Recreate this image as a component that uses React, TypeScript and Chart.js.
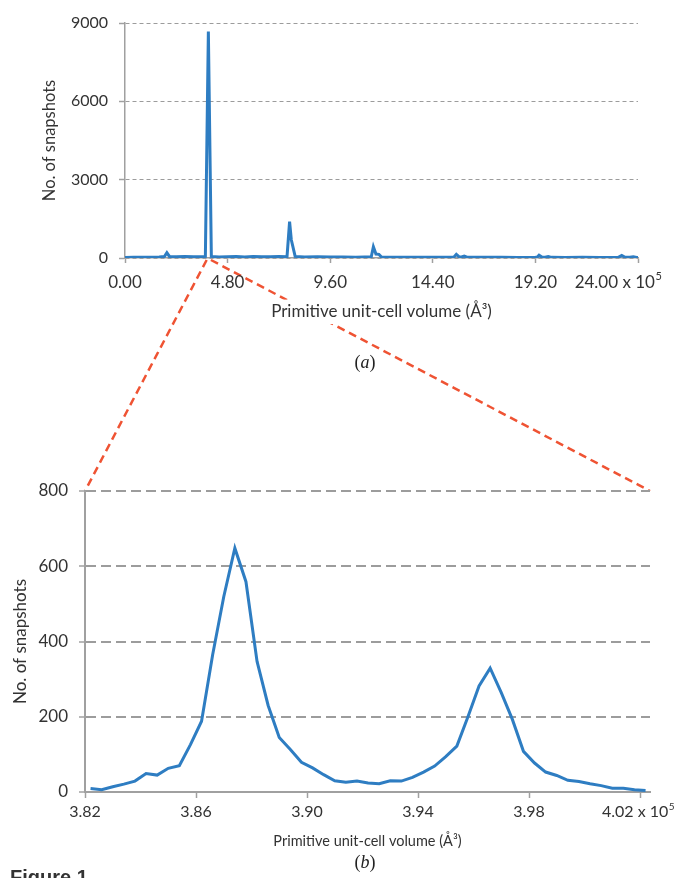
import React, { useEffect, useRef } from 'react';
import { Chart, registerables } from 'chart.js';

Chart.register(...registerables);

// ---------- data (a): full range, volume in units of 10^5 Å^3 ----------
const TOP_VOLUME = [
  0.0, 0.4, 0.8, 1.2, 1.6, 1.85, 1.96, 2.08, 2.4, 2.8, 3.2, 3.6, 3.76, 3.9, 4.04,
  4.4, 4.8, 5.2, 5.6, 6.0, 6.4, 6.8, 7.2, 7.58, 7.7, 7.78, 7.96, 8.4, 9.0, 9.6,
  10.2, 10.8, 11.2, 11.52, 11.62, 11.74, 11.88, 12.0, 12.6, 13.2, 13.8, 14.4, 15.0,
  15.38, 15.5, 15.62, 15.74, 15.87, 16.0, 16.8, 17.6, 18.4, 19.2, 19.28, 19.37, 19.5,
  19.66, 19.8, 19.95, 20.6, 21.4, 22.2, 23.08, 23.24, 23.4, 23.62, 23.78, 23.94, 24.0,
];
const TOP_SNAPSHOTS = [
  20, 25, 30, 28, 35, 60, 200, 60, 45, 55, 50, 45, 60, 8670, 60,
  40, 45, 55, 40, 60, 50, 45, 55, 50, 1390, 700, 60, 40, 45, 35,
  40, 30, 35, 40, 430, 150, 140, 40, 30, 25, 30, 25, 30,
  30, 140, 50, 40, 70, 30, 25, 25, 20, 25, 30, 110, 35,
  30, 60, 25, 20, 25, 20, 25, 100, 30, 25, 50, 20, 15,
];
const TOP_X_TICKS = [0, 4.8, 9.6, 14.4, 19.2, 24];

// ---------- data (b): zoom 3.82 – 4.02 x 10^5 Å^3 ----------
const ZOOM_VOLUME = [
  3.822, 3.826, 3.83, 3.834, 3.838, 3.842, 3.846, 3.85, 3.854, 3.858,
  3.862, 3.866, 3.87, 3.874, 3.878, 3.882, 3.886, 3.89, 3.894, 3.898,
  3.902, 3.906, 3.91, 3.914, 3.918, 3.922, 3.926, 3.93, 3.934, 3.938,
  3.942, 3.946, 3.95, 3.954, 3.958, 3.962, 3.966, 3.97, 3.974, 3.978,
  3.982, 3.986, 3.99, 3.994, 3.998, 4.002, 4.006, 4.01, 4.014, 4.018, 4.022,
];
const ZOOM_SNAPSHOTS = [
  9, 6, 14, 21, 29, 49, 45, 63, 70, 126,
  188, 365, 519, 648, 559, 347, 230, 145, 113, 79,
  64, 46, 30, 26, 29, 24, 22, 30, 29, 39,
  53, 69, 94, 122, 200, 282, 329, 264, 193, 108,
  77, 53, 44, 31, 28, 22, 17, 10, 10, 6, 4,
];
const ZOOM_X_TICKS = [3.82, 3.86, 3.9, 3.94, 3.98, 4.02];
const ZOOM_RANGE = [3.82, 4.02];
const ZOOM_AXIS_MAX = 4.0236;

// ---------- style ----------
const FONT = 'Lato, "Open Sans", sans-serif';
const TEXT = '#333333';
const AXIS = '#a0a0a0';
const GRID = '#9c9c9c';
const BLUE = '#2e7dc2';
const RED = '#ef5333';
const W = 677;
const H = 878;
const TOP_H = 330;
const BOT_TOP = 470;
const BOT_H = 408;
const X_TITLE = 'Primitive unit-cell volume (Å³)';

const fmt = (v: number) => Number(v).toFixed(2);

const supLabelPlugin = {
  id: 'supLabel',
  afterDraw(chart: any, _args: any, opts: any) {
    if (!opts || !opts.base) return;
    const sx = chart.scales.x;
    const ctx = chart.ctx;
    const size = opts.size;
    const supSize = Math.round(size * 0.65);
    const y = sx.top + opts.tickLength + opts.padding + (size * 1.2) / 2;
    const x = sx.getPixelForValue(opts.value) + (opts.dx || 0);
    ctx.save();
    ctx.font = `${size}px ${FONT}`;
    const wMain = ctx.measureText(opts.base).width;
    ctx.font = `${supSize}px ${FONT}`;
    const wSup = ctx.measureText(opts.sup).width;
    const start = x - (wMain + wSup) / 2;
    ctx.fillStyle = TEXT;
    ctx.textBaseline = 'middle';
    ctx.textAlign = 'left';
    ctx.font = `${size}px ${FONT}`;
    ctx.fillText(opts.base, start, y);
    ctx.font = `${supSize}px ${FONT}`;
    ctx.fillText(opts.sup, start + wMain + 0.5, y - size * 0.32);
    ctx.restore();
  },
};

const titleBgPlugin = {
  id: 'titleBg',
  beforeDraw(chart: any, _args: any, opts: any) {
    if (!opts || !opts.enabled) return;
    const sx = chart.scales.x;
    const ctx = chart.ctx;
    const lh = opts.size * 1.2;
    const cy = sx.bottom - opts.padBottom - lh / 2;
    const cx = (sx.left + sx.right) / 2;
    ctx.save();
    ctx.font = `${opts.size}px ${FONT}`;
    const w = ctx.measureText(X_TITLE).width;
    ctx.fillStyle = '#ffffff';
    ctx.fillRect(cx - w / 2 - 6, cy - lh / 2 - 2, w + 12, lh + 4);
    ctx.restore();
  },
};

export default function App() {
  const topRef = useRef<HTMLCanvasElement>(null);
  const botRef = useRef<HTMLCanvasElement>(null);
  const ovRef = useRef<HTMLCanvasElement>(null);

  useEffect(() => {
    const topChart = new Chart(topRef.current as HTMLCanvasElement, {
      type: 'line',
      data: {
        datasets: [
          {
            data: TOP_VOLUME.map((x, i) => ({ x, y: TOP_SNAPSHOTS[i] })),
            borderColor: BLUE,
            borderWidth: 3,
            pointRadius: 0,
            tension: 0,
            fill: false,
          },
        ],
      },
      plugins: [supLabelPlugin, titleBgPlugin],
      options: {
        responsive: false,
        animation: false,
        devicePixelRatio: 1,
        layout: { padding: { left: 0, top: 23, right: 39, bottom: 0 } },
        plugins: {
          legend: { display: false },
          tooltip: { enabled: false },
          supLabel: { base: '24.00 x 10', sup: '5', value: 24, dx: -20, size: 17, tickLength: 5, padding: 9 },
          titleBg: { enabled: true, size: 17, padBottom: 8 },
        } as any,
        scales: {
          x: {
            type: 'linear',
            min: 0,
            max: 24,
            afterBuildTicks: (s: any) => {
              s.ticks = TOP_X_TICKS.map((v) => ({ value: v }));
            },
            afterFit: (s: any) => {
              s.height = TOP_H - 258;
              s.paddingLeft = 0;
              s.paddingRight = 0;
            },
            ticks: {
              autoSkip: false,
              maxRotation: 0,
              padding: 9,
              color: TEXT,
              font: { family: FONT, size: 17 },
              callback: (v: any) => (Number(v) === 24 ? '' : fmt(v)),
            },
            grid: {
              drawOnChartArea: false,
              drawTicks: true,
              tickLength: 5,
              tickColor: AXIS,
              tickWidth: 1.5,
              tickBorderDash: [],
            },
            border: { display: true, color: AXIS, width: 1.5 },
            title: {
              display: true,
              text: X_TITLE,
              color: TEXT,
              font: { family: FONT, size: 17 },
              padding: { top: 0, bottom: 8 },
            },
          },
          y: {
            min: 0,
            max: 9000,
            ticks: {
              stepSize: 3000,
              padding: 11,
              color: TEXT,
              font: { family: FONT, size: 16 },
              callback: (v: any) => String(v),
            },
            afterFit: (s: any) => {
              s.width = 125;
              s.paddingTop = 0;
              s.paddingBottom = 0;
            },
            grid: {
              color: GRID,
              lineWidth: 1,
              drawTicks: true,
              tickLength: 6,
              tickColor: AXIS,
              tickWidth: 1.5,
              tickBorderDash: [],
            },
            border: { display: true, color: AXIS, width: 1.5, dash: [4, 3] },
            title: {
              display: true,
              text: 'No. of snapshots',
              color: TEXT,
              font: { family: FONT, size: 16.5 },
              padding: { top: 40, bottom: 0 },
            },
          },
        },
      } as any,
    });

    const botChart = new Chart(botRef.current as HTMLCanvasElement, {
      type: 'line',
      data: {
        datasets: [
          {
            data: ZOOM_VOLUME.map((x, i) => ({ x, y: ZOOM_SNAPSHOTS[i] })),
            borderColor: BLUE,
            borderWidth: 3,
            pointRadius: 0,
            tension: 0,
            fill: false,
          },
        ],
      },
      plugins: [supLabelPlugin],
      options: {
        responsive: false,
        animation: false,
        devicePixelRatio: 1,
        layout: { padding: { left: 0, top: 21, right: 27, bottom: 0 } },
        plugins: {
          legend: { display: false },
          tooltip: { enabled: false },
          supLabel: { base: '4.02 x 10', sup: '5', value: 4.02, dx: -2, size: 16, tickLength: 6, padding: 4 },
        } as any,
        scales: {
          x: {
            type: 'linear',
            min: ZOOM_RANGE[0],
            max: ZOOM_AXIS_MAX,
            afterBuildTicks: (s: any) => {
              s.ticks = ZOOM_X_TICKS.map((v) => ({ value: v }));
            },
            afterFit: (s: any) => {
              s.height = BOT_H - 322;
              s.paddingLeft = 0;
              s.paddingRight = 0;
            },
            ticks: {
              autoSkip: false,
              maxRotation: 0,
              padding: 4,
              color: TEXT,
              font: { family: FONT, size: 16 },
              callback: (v: any) => (Math.abs(Number(v) - 4.02) < 1e-6 ? '' : fmt(v)),
            },
            grid: {
              drawOnChartArea: false,
              drawTicks: true,
              tickLength: 6,
              tickColor: AXIS,
              tickWidth: 1.5,
              tickBorderDash: [],
            },
            border: { display: true, color: AXIS, width: 2 },
            title: {
              display: true,
              text: X_TITLE,
              color: TEXT,
              font: { family: FONT, size: 14.5 },
              padding: { top: 0, bottom: 27.5 },
            },
          },
          y: {
            min: 0,
            max: 800,
            ticks: { stepSize: 200, padding: 11, color: TEXT, font: { family: FONT, size: 17 } },
            afterFit: (s: any) => {
              s.width = 85;
              s.paddingTop = 0;
              s.paddingBottom = 0;
            },
            grid: {
              color: GRID,
              lineWidth: 2,
              drawTicks: true,
              tickLength: 6,
              tickColor: AXIS,
              tickWidth: 1.5,
              tickBorderDash: [],
            },
            border: { display: true, color: AXIS, width: 2, dash: [10, 5] },
            title: {
              display: true,
              text: 'No. of snapshots',
              color: TEXT,
              font: { family: FONT, size: 17 },
              padding: { top: 10, bottom: 0 },
            },
          },
        },
      } as any,
    });

    // zoom connector lines (drawn below the chart canvases)
    const ov = ovRef.current as HTMLCanvasElement;
    const octx = ov.getContext('2d') as CanvasRenderingContext2D;
    octx.clearRect(0, 0, W, H);
    const xs: any = topChart.scales.x;
    const ys: any = topChart.scales.y;
    const yAxis = ys.getPixelForValue(0) + 2;
    const ca = botChart.chartArea;
    const segs = [
      [xs.getPixelForValue(ZOOM_RANGE[0]), yAxis, ca.left, BOT_TOP + ca.top],
      [xs.getPixelForValue(ZOOM_RANGE[1]), yAxis, ca.right, BOT_TOP + ca.top],
    ];
    octx.save();
    octx.strokeStyle = RED;
    octx.lineWidth = 2.5;
    octx.setLineDash([8, 5]);
    segs.forEach(([x1, y1, x2, y2]) => {
      octx.beginPath();
      octx.moveTo(x1, y1);
      octx.lineTo(x2, y2);
      octx.stroke();
    });
    octx.restore();

    return () => {
      topChart.destroy();
      botChart.destroy();
    };
  }, []);

  const serif = '"Liberation Serif", "DejaVu Serif", serif';
  return (
    <div
      style={{
        position: 'absolute',
        left: 0,
        top: 0,
        width: W,
        height: H,
        overflow: 'hidden',
        background: '#ffffff',
      }}
    >
      <canvas ref={ovRef} width={W} height={H} style={{ position: 'absolute', left: 0, top: 0, width: W, height: H }} />
      <canvas ref={topRef} width={W} height={TOP_H} style={{ position: 'absolute', left: 0, top: 0, width: W, height: TOP_H }} />
      <canvas
        ref={botRef}
        width={W}
        height={BOT_H}
        style={{ position: 'absolute', left: 0, top: BOT_TOP, width: W, height: BOT_H }}
      />
      <div
        style={{
          position: 'absolute',
          left: 325,
          top: 351,
          width: 80,
          textAlign: 'center',
          fontFamily: serif,
          fontSize: 18,
          lineHeight: '22px',
          color: '#222',
        }}
      >
        (<i>a</i>)
      </div>
      <div
        style={{
          position: 'absolute',
          left: 325,
          top: 851,
          width: 80,
          textAlign: 'center',
          fontFamily: serif,
          fontSize: 18,
          lineHeight: '22px',
          color: '#222',
        }}
      >
        (<i>b</i>)
      </div>
      <div
        style={{
          position: 'absolute',
          left: 10,
          top: 867,
          fontFamily: '"Liberation Sans", Arial, sans-serif',
          fontWeight: 'bold',
          fontSize: 20,
          lineHeight: '20px',
          color: '#333',
          whiteSpace: 'nowrap',
        }}
      >
        Figure 1
      </div>
    </div>
  );
}
